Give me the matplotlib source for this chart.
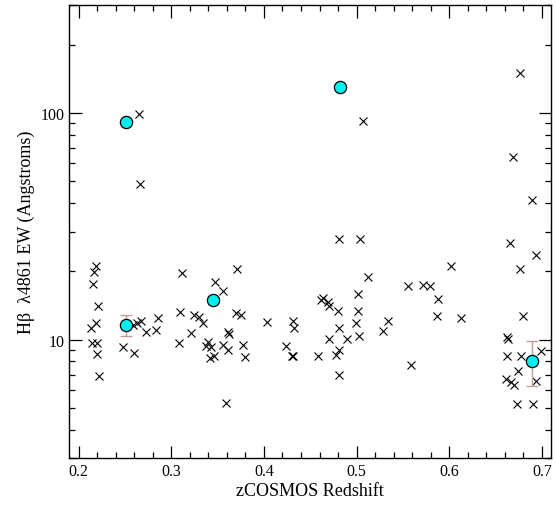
import matplotlib
matplotlib.use("Agg")
import matplotlib.pyplot as plt
from matplotlib.ticker import LogLocator, NullFormatter, FixedLocator, MultipleLocator, FixedFormatter

# Cross points (all galaxies)
z_all = [0.219, 0.217, 0.2154, 0.2208, 0.219, 0.2129, 0.214, 0.220, 0.2197, 0.2216,
         0.2477, 0.2596, 0.259, 0.2628, 0.2675, 0.2722, 0.2837, 0.2858, 0.265, 0.266,
         0.308, 0.3113, 0.3096, 0.3214, 0.3243, 0.3297, 0.334, 0.3398, 0.3376, 0.3433,
         0.342, 0.3462, 0.3469, 0.3555, 0.3559, 0.3613, 0.3613, 0.362, 0.3589, 0.371,
         0.3699, 0.3756, 0.377, 0.380, 0.4029,
         0.4238, 0.4299, 0.4309, 0.4309, 0.4328, 0.4586, 0.4615, 0.4643, 0.469, 0.4705,
         0.4705, 0.4777, 0.481, 0.4805, 0.480, 0.4805, 0.490, 0.4992, 0.5014, 0.502,
         0.5028, 0.5128, 0.529, 0.534, 0.4805, 0.5039, 0.5068,
         0.556, 0.5585, 0.572, 0.579, 0.5876, 0.5872, 0.6023, 0.6127,
         0.676, 0.669, 0.689, 0.666, 0.694, 0.676, 0.680, 0.6625, 0.664, 0.6625,
         0.6777, 0.6986, 0.674, 0.6608, 0.6662, 0.670, 0.6939, 0.6734, 0.6903]
ew_all = [21.2, 19.9, 17.6, 14.1, 11.8, 11.2, 9.64, 9.67, 8.67, 6.87,
          9.3, 8.7, 11.6, 11.8, 12.1, 10.8, 11.0, 12.5, 99.0, 48.5,
          9.64, 19.6, 13.2, 10.67, 12.8, 12.56, 11.8, 9.8, 9.4, 9.25,
          8.3, 8.5, 17.9, 16.3, 9.47, 9.03, 10.8, 10.6, 5.25, 20.4,
          13.1, 12.9, 9.5, 8.36, 12.0,
          9.35, 8.45, 8.5, 12.1, 11.3, 8.45, 15.0, 15.2, 14.6, 14.1,
          10.1, 8.55, 9.0, 6.98, 13.3, 11.3, 10.1, 11.8, 13.4, 15.9,
          10.4, 18.8, 10.9, 12.1, 27.7, 27.7, 92.7,
          17.2, 7.73, 17.4, 17.3, 15.1, 12.7, 21.1, 12.4,
          149.6, 64.3, 41.4, 26.7, 23.7, 20.5, 12.7, 10.3, 10.1, 8.5,
          8.5, 8.94, 7.28, 6.71, 6.48, 6.27, 6.59, 5.19, 5.19]

# Highlighted objects (cyan circles)
z_sel = [0.2507, 0.2507, 0.3455, 0.4823, 0.6889]
ew_sel = [91.5, 11.6, 15.0, 130.6, 8.05]
ew_sel_err = [0.0, 1.2, 0.0, 0.0, 1.8]

xlim = (0.19, 0.71)
ylim = (3.0, 300.0)

plt.rcParams['font.family'] = ['Liberation Serif', 'DejaVu Serif']
plt.rcParams['mathtext.fontset'] = 'stix'

fig = plt.figure(figsize=(5.55, 5.06), dpi=100)
ax = fig.add_axes([0.125, 0.093, 0.868, 0.895])

ax.plot(z_all, ew_all, linestyle='none', marker='x', color='black',
        markersize=5.4, markeredgewidth=0.8, zorder=2)

err_idx = [i for i, e in enumerate(ew_sel_err) if e > 0]
ax.errorbar([z_sel[i] for i in err_idx], [ew_sel[i] for i in err_idx],
            yerr=[ew_sel_err[i] for i in err_idx], fmt='none',
            ecolor='#c89a9a', elinewidth=1.0, capsize=4, capthick=1.0, zorder=3)
ax.plot(z_sel, ew_sel, linestyle='none', marker='o', markerfacecolor='#00eeee',
        markeredgecolor='black', markeredgewidth=0.9, markersize=8.8, zorder=4)

ax.set_yscale('log')
ax.set_xlim(*xlim)
ax.set_ylim(*ylim)

ax.xaxis.set_major_locator(MultipleLocator(0.1))
ax.xaxis.set_minor_locator(MultipleLocator(0.02))
ax.yaxis.set_major_locator(FixedLocator([10, 100]))
ax.yaxis.set_major_formatter(FixedFormatter(['10', '100']))
ax.yaxis.set_minor_locator(LogLocator(base=10, subs=range(2, 10)))
ax.yaxis.set_minor_formatter(NullFormatter())

ax.tick_params(which='both', direction='in', top=True, right=True, width=0.9,
               labelsize=11.5, colors='black')
ax.tick_params(which='major', length=9)
ax.tick_params(which='minor', length=4.5)
for s in ax.spines.values():
    s.set_linewidth(1.0)

ax.set_xlabel('zCOSMOS Redshift', fontsize=13, labelpad=2)
ax.set_ylabel('H\u03b2  \u03bb4861 EW (Angstroms)', fontsize=13, labelpad=4)

fig.savefig('out.png', dpi=100)
